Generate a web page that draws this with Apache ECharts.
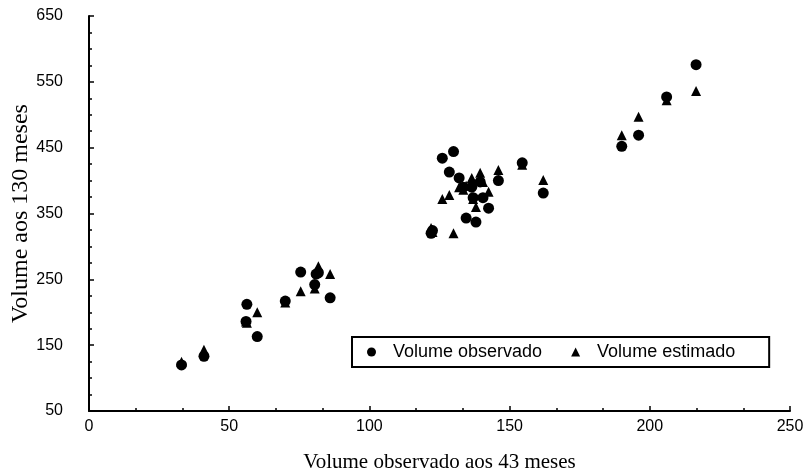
<!DOCTYPE html>
<html>
<head>
<meta charset="utf-8">
<script src="https://cdn.jsdelivr.net/npm/echarts@6/dist/echarts.min.js"></script>
<style>html,body{margin:0;padding:0;background:#fff}#c{width:807px;height:474px}</style>
</head>
<body>
<div id="c"></div>
<script>
// Volume observado aos 43 meses (x)
const volume43 = [33, 41, 56, 56.3, 60, 70, 75.5, 80.5, 81, 81.8, 86,
  122, 122.5, 126, 128.5, 130, 132, 133.5, 134.5, 136.5, 137, 138, 139.5, 140.5, 142.5, 146,
  154.5, 162, 190, 196, 206, 216.5];
// Volume observado aos 130 meses
const volumeObservado = [120, 133, 186, 212, 163, 217, 261, 242, 258, 260, 222,
  320, 324, 434, 413, 444, 404, 390, 343, 390, 374, 337, 398, 374, 358, 400,
  427, 381, 452, 469, 527, 576];
// Volume estimado aos 130 meses
const volumeEstimado = [125, 143, 186, 184, 200, 215, 232, 236, 262, 270, 258,
  328, 322, 372, 378, 320, 390, 386, 392, 404, 372, 360, 412, 398, 383, 416,
  424, 401, 469, 497, 522, 536];
const xTicks = [0, 50, 100, 150, 200, 250];
const yTicks = [50, 150, 250, 350, 450, 550, 650];

const obsData = volume43.map((x, i) => [x, volumeObservado[i]]);
const estData = volume43.map((x, i) => [x, volumeEstimado[i]]);

const chart = echarts.init(document.getElementById('c'));
const axisCommon = {
  axisLine: {show: true, lineStyle: {color: '#000', width: 2}},
  axisTick: {show: true, inside: true, length: 5, lineStyle: {color: '#000', width: 1.5}},
  minorTick: {show: true, splitNumber: 3, length: 3, lineStyle: {color: '#000', width: 1.5}},
  splitLine: {show: false},
  axisLabel: {color: '#000', fontFamily: 'Liberation Sans, Arial, sans-serif', fontSize: 16},
  nameTextStyle: {color: '#000', fontFamily: 'Liberation Serif, Times New Roman, serif', fontSize: 21},
  nameLocation: 'middle',
  nameMoveOverlap: false
};
chart.setOption({
  animation: false,
  backgroundColor: '#fff',
  grid: {left: 89, right: 17, top: 16, bottom: 63, containLabel: false, outerBoundsMode: 'none'},
  xAxis: Object.assign({}, axisCommon, {
    type: 'value', min: xTicks[0], max: xTicks[xTicks.length - 1], interval: 50,
    name: 'Volume observado aos 43 meses', nameGap: 41,
    axisLabel: Object.assign({}, axisCommon.axisLabel, {margin: 8})
  }),
  yAxis: Object.assign({}, axisCommon, {
    type: 'value', min: yTicks[0], max: yTicks[yTicks.length - 1], interval: 100,
    name: 'Volume aos 130 meses', nameGap: 56,
    nameTextStyle: Object.assign({}, axisCommon.nameTextStyle, {fontSize: 24}),
    minorTick: Object.assign({}, axisCommon.minorTick, {splitNumber: 4}),
    axisLabel: Object.assign({}, axisCommon.axisLabel, {margin: 26})
  }),
  legend: {
    left: 352, top: 337,
    orient: 'horizontal',
    padding: [6, 34, 6, 15],
    borderColor: '#000', borderWidth: 2,
    itemWidth: 9, itemHeight: 9, itemGap: 29,
    textStyle: {color: '#000', fontFamily: 'Liberation Sans, Arial, sans-serif', fontSize: 18, padding: [0, 0, 0, 12]},
    data: [{name: 'Volume observado', icon: 'circle'}, {name: 'Volume estimado', icon: 'triangle'}]
  },
  series: [
    {name: 'Volume observado', type: 'scatter', symbol: 'circle', symbolSize: 11,
     itemStyle: {color: '#000', opacity: 1}, data: obsData},
    {name: 'Volume estimado', type: 'scatter', symbol: 'triangle', symbolSize: 10,
     itemStyle: {color: '#000', opacity: 1}, data: estData}
  ]
});
</script>
</body>
</html>
